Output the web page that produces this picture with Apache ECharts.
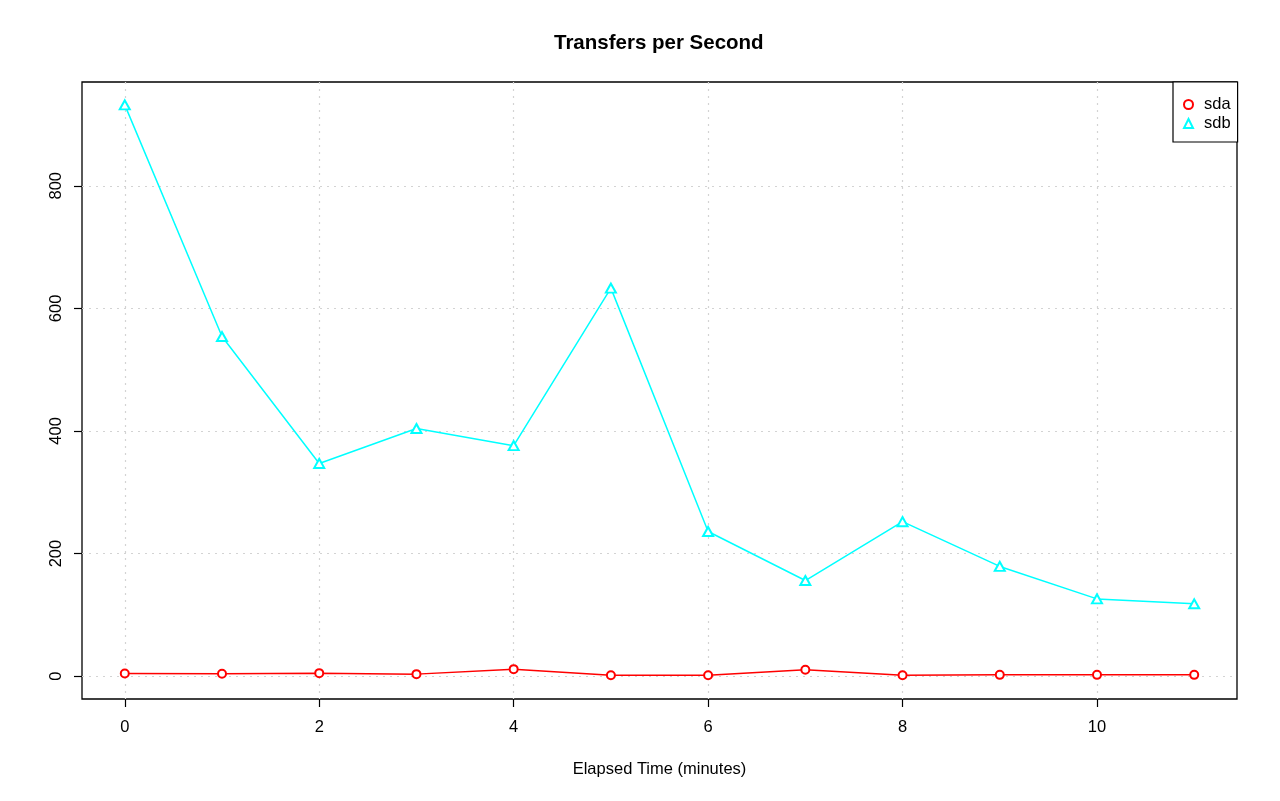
<!DOCTYPE html>
<html>
<head>
<meta charset="utf-8">
<script src="https://cdn.jsdelivr.net/npm/echarts@6/dist/echarts.min.js"></script>
<style>html,body{margin:0;padding:0;background:#fff}#c{width:1280px;height:801px}</style>
</head>
<body>
<div id="c"></div>
<script>
const minutes = [0, 1, 2, 3, 4, 5, 6, 7, 8, 9, 10, 11];
const sda = [4.4, 3.8, 4.9, 3.3, 11.4, 1.6, 1.6, 10.3, 1.6, 2.1, 2.1, 2.1];
const sdb = [932, 554, 347, 404, 376, 633, 236, 156, 252, 179, 126, 118];
const xTicks = [0, 2, 4, 6, 8, 10];
const yTicks = [0, 200, 400, 600, 800];
const seriesNames = ['sda', 'sdb'];

const FONT = '"Liberation Sans", Arial, Helvetica, sans-serif';
const LBL = 16.5;
const chart = echarts.init(document.getElementById('c'), null, {renderer: 'canvas'});
const yMax = Math.max(...sdb, ...sda);
const pad = 0.04 * yMax;

chart.setOption({
  animation: false,
  backgroundColor: '#fff',
  title: {
    text: 'Transfers per Second',
    left: 549, top: 28,
    textStyle: {fontFamily: FONT, fontWeight: 'bold', fontSize: 20.5, color: '#000'}
  },
  legend: {
    orient: 'vertical',
    left: 1173, top: 82,
    padding: [14, 7, 10, 10],
    itemGap: 2,
    itemWidth: 9, itemHeight: 9,
    borderColor: '#000', borderWidth: 1.2,
    backgroundColor: '#fff',
    data: [{name: seriesNames[0], icon: 'emptyCircle'}, {name: seriesNames[1], icon: 'emptyTriangle'}],
    textStyle: {fontFamily: FONT, fontSize: LBL, lineHeight: 14, color: '#000', padding: [0, 0, 0, 6]},
    itemStyle: {borderWidth: 1.6}
  },
  grid: {
    left: 82, right: 43, top: 82, bottom: 102,
    show: true, borderColor: '#000', borderWidth: 1.3, backgroundColor: 'transparent'
  },
  xAxis: {
    type: 'value',
    min: -0.44, max: 11.44,
    name: 'Elapsed Time (minutes)',
    nameLocation: 'middle', nameGap: 62,
    nameTextStyle: {fontFamily: FONT, fontSize: LBL, color: '#000'},
    axisLine: {show: false, onZero: false},
    axisTick: {show: true, inside: false, customValues: xTicks, length: 8, lineStyle: {color: '#000', width: 1.2}},
    axisLabel: {customValues: xTicks, margin: 20, fontFamily: FONT, fontSize: LBL, color: '#000'},
    splitLine: {show: true, lineStyle: {color: '#d3d3d3', type: [2, 5], width: 1.2}}
  },
  yAxis: {
    type: 'value',
    min: -pad, max: yMax + pad,
    axisLine: {show: false, onZero: false},
    axisTick: {show: true, inside: false, customValues: yTicks, length: 8, lineStyle: {color: '#000', width: 1.2}},
    axisLabel: {customValues: yTicks, rotate: 90, margin: 17, fontFamily: FONT, fontSize: LBL, color: '#000'},
    splitLine: {show: true, lineStyle: {color: '#d3d3d3', type: [2, 5], width: 1.2}}
  },
  series: [
    {
      name: seriesNames[0], type: 'line',
      data: minutes.map((m, i) => [m, sda[i]]),
      symbol: 'emptyCircle', symbolSize: 8,
      lineStyle: {color: '#ff0000', width: 1.5},
      itemStyle: {color: '#ff0000', borderWidth: 1.6},
      z: 3
    },
    {
      name: seriesNames[1], type: 'line',
      data: minutes.map((m, i) => [m, sdb[i]]),
      symbol: 'emptyTriangle', symbolSize: [10, 9],
      lineStyle: {color: '#00ffff', width: 1.5},
      itemStyle: {color: '#00ffff', borderWidth: 1.6},
      z: 3
    }
  ]
});
</script>
</body>
</html>
